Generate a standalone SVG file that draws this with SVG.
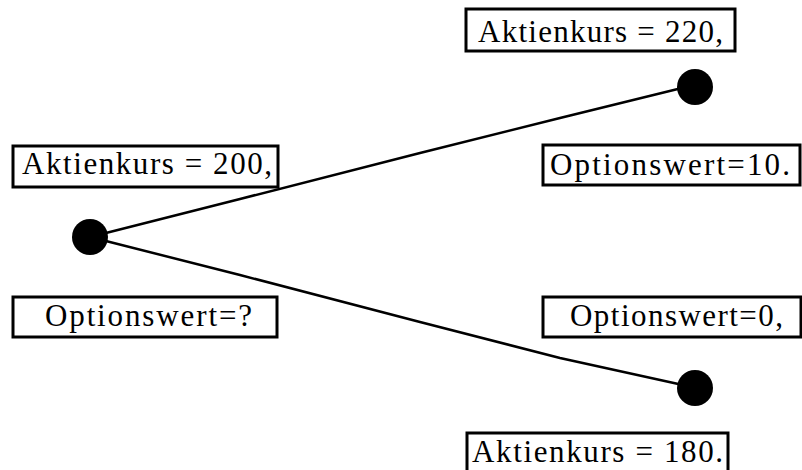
<svg xmlns="http://www.w3.org/2000/svg" width="802" height="470" viewBox="0 0 802 470">
<style>
.box{fill:#fff;stroke:#000;stroke-width:3}
.t{font-family:"Liberation Serif","DejaVu Serif",serif;font-size:31px;fill:#000}
.dot{fill:#000}
.edge{fill:none;stroke:#000;stroke-width:2.5;stroke-linecap:round}
</style>
<rect width="802" height="470" fill="#fff"/>
<g id="connectors">
<path class="edge" d="M98 235 L240 199 L420 153 L560 118 L690 86"/>
<path class="edge" d="M98 239 L240 275 L420 322 L560 358 L692 387"/>
</g>
<g id="root">
<circle class="dot" cx="90" cy="237" r="18"/>
<rect class="box" x="13" y="146" width="265" height="41"/>
<text class="t" x="22" y="174" textLength="250">Aktienkurs = 200,</text>
<rect class="box" x="13" y="297" width="264" height="40"/>
<text class="t" x="45" y="326" textLength="207">Optionswert=?</text>
</g>
<g id="up">
<circle class="dot" cx="695" cy="87" r="18"/>
<rect class="box" x="466" y="9" width="269" height="42"/>
<text class="t" x="478" y="42" textLength="245">Aktienkurs = 220,</text>
<rect class="box" x="543" y="145" width="257" height="40"/>
<text class="t" x="550" y="175" textLength="240">Optionswert=10.</text>
</g>
<g id="down">
<circle class="dot" cx="695" cy="388" r="18"/>
<rect class="box" x="543" y="297" width="258" height="40"/>
<text class="t" x="570" y="326" textLength="213">Optionswert=0,</text>
<rect class="box" x="467" y="433" width="261" height="40"/>
<text class="t" x="472" y="462" textLength="251">Aktienkurs = 180.</text>
</g>
</svg>
